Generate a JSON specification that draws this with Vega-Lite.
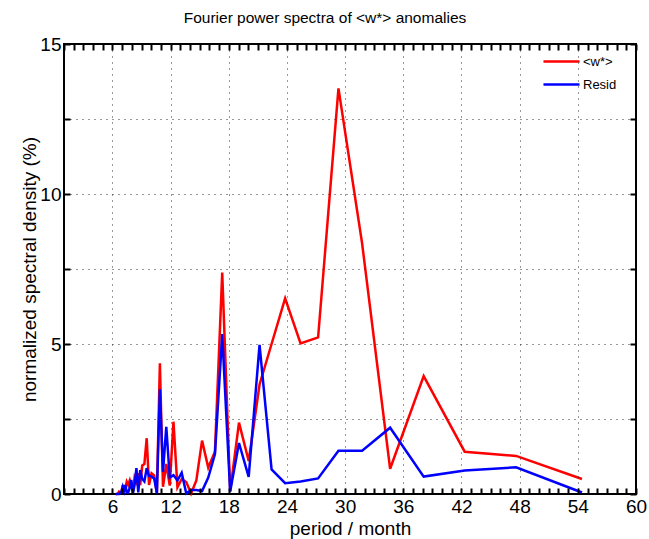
{
  "$schema": "https://vega.github.io/schema/vega-lite/v6.json",
  "width": 572,
  "height": 450,
  "autosize": {"type": "none"},
  "padding": {"left": 64, "top": 44, "right": 13, "bottom": 45},
  "background": "white",
  "config": {"view": {"stroke": "black", "strokeWidth": 2}, "font": "Liberation Sans"},
  "title": {"text": "Fourier power spectra of <w*> anomalies", "fontSize": 15.5, "fontWeight": "normal", "font": "Liberation Sans", "color": "black", "offset": 9, "dx": -25},
  "data": {"values": [
    {"period": 54.43, "series": "<w*>", "value": 0.5}, {"period": 54.43, "series": "Resid", "value": 0.05},
    {"period": 47.63, "series": "<w*>", "value": 1.27}, {"period": 47.63, "series": "Resid", "value": 0.89},
    {"period": 42.33, "series": "<w*>", "value": 1.41}, {"period": 42.33, "series": "Resid", "value": 0.78},
    {"period": 38.1, "series": "<w*>", "value": 3.93}, {"period": 38.1, "series": "Resid", "value": 0.58},
    {"period": 34.64, "series": "<w*>", "value": 0.84}, {"period": 34.64, "series": "Resid", "value": 2.21},
    {"period": 31.75, "series": "<w*>", "value": 8.35}, {"period": 31.75, "series": "Resid", "value": 1.44},
    {"period": 29.31, "series": "<w*>", "value": 13.52}, {"period": 29.31, "series": "Resid", "value": 1.44},
    {"period": 27.21, "series": "<w*>", "value": 5.22}, {"period": 27.21, "series": "Resid", "value": 0.52},
    {"period": 25.4, "series": "<w*>", "value": 5.02}, {"period": 25.4, "series": "Resid", "value": 0.42},
    {"period": 23.81, "series": "<w*>", "value": 6.52}, {"period": 23.81, "series": "Resid", "value": 0.36},
    {"period": 22.41, "series": "<w*>", "value": 5.0}, {"period": 22.41, "series": "Resid", "value": 0.82},
    {"period": 21.17, "series": "<w*>", "value": 3.65}, {"period": 21.17, "series": "Resid", "value": 4.97},
    {"period": 20.05, "series": "<w*>", "value": 1.1}, {"period": 20.05, "series": "Resid", "value": 0.57},
    {"period": 19.05, "series": "<w*>", "value": 2.38}, {"period": 19.05, "series": "Resid", "value": 1.7},
    {"period": 18.14, "series": "<w*>", "value": 0.1}, {"period": 18.14, "series": "Resid", "value": 0.08},
    {"period": 17.32, "series": "<w*>", "value": 7.38}, {"period": 17.32, "series": "Resid", "value": 5.33},
    {"period": 16.57, "series": "<w*>", "value": 1.41}, {"period": 16.57, "series": "Resid", "value": 1.33},
    {"period": 15.88, "series": "<w*>", "value": 0.88}, {"period": 15.88, "series": "Resid", "value": 0.55},
    {"period": 15.24, "series": "<w*>", "value": 1.78}, {"period": 15.24, "series": "Resid", "value": 0.1},
    {"period": 14.65, "series": "<w*>", "value": 0.45}, {"period": 14.65, "series": "Resid", "value": 0.13},
    {"period": 14.11, "series": "<w*>", "value": 0.02}, {"period": 14.11, "series": "Resid", "value": 0.13},
    {"period": 13.61, "series": "<w*>", "value": 0.4}, {"period": 13.61, "series": "Resid", "value": 0.02},
    {"period": 13.14, "series": "<w*>", "value": 0.5}, {"period": 13.14, "series": "Resid", "value": 0.71},
    {"period": 12.7, "series": "<w*>", "value": 0.22}, {"period": 12.7, "series": "Resid", "value": 0.45},
    {"period": 12.29, "series": "<w*>", "value": 2.41}, {"period": 12.29, "series": "Resid", "value": 0.63},
    {"period": 11.91, "series": "<w*>", "value": 0.28}, {"period": 11.91, "series": "Resid", "value": 0.55},
    {"period": 11.55, "series": "<w*>", "value": 1.0}, {"period": 11.55, "series": "Resid", "value": 2.24},
    {"period": 11.21, "series": "<w*>", "value": 0.24}, {"period": 11.21, "series": "Resid", "value": 0.74},
    {"period": 10.89, "series": "<w*>", "value": 4.36}, {"period": 10.89, "series": "Resid", "value": 3.49},
    {"period": 10.58, "series": "<w*>", "value": 0.05}, {"period": 10.58, "series": "Resid", "value": 0.02},
    {"period": 10.3, "series": "<w*>", "value": 0.62}, {"period": 10.3, "series": "Resid", "value": 0.52},
    {"period": 10.03, "series": "<w*>", "value": 0.69}, {"period": 10.03, "series": "Resid", "value": 0.58},
    {"period": 9.77, "series": "<w*>", "value": 0.3}, {"period": 9.77, "series": "Resid", "value": 0.6},
    {"period": 9.53, "series": "<w*>", "value": 1.86}, {"period": 9.53, "series": "Resid", "value": 0.86},
    {"period": 9.29, "series": "<w*>", "value": 1.0}, {"period": 9.29, "series": "Resid", "value": 0.42},
    {"period": 9.07, "series": "<w*>", "value": 0.95}, {"period": 9.07, "series": "Resid", "value": 0.5},
    {"period": 8.86, "series": "<w*>", "value": 0.3}, {"period": 8.86, "series": "Resid", "value": 0.8},
    {"period": 8.66, "series": "<w*>", "value": 0.69}, {"period": 8.66, "series": "Resid", "value": 0.05},
    {"period": 8.47, "series": "<w*>", "value": 0.4}, {"period": 8.47, "series": "Resid", "value": 0.86},
    {"period": 8.28, "series": "<w*>", "value": 0.55}, {"period": 8.28, "series": "Resid", "value": 0.3},
    {"period": 8.11, "series": "<w*>", "value": 0.1}, {"period": 8.11, "series": "Resid", "value": 0.02},
    {"period": 7.94, "series": "<w*>", "value": 0.24}, {"period": 7.94, "series": "Resid", "value": 0.47},
    {"period": 7.78, "series": "<w*>", "value": 0.45}, {"period": 7.78, "series": "Resid", "value": 0.2},
    {"period": 7.62, "series": "<w*>", "value": 0.3}, {"period": 7.62, "series": "Resid", "value": 0.05},
    {"period": 7.47, "series": "<w*>", "value": 0.41}, {"period": 7.47, "series": "Resid", "value": 0.05},
    {"period": 7.33, "series": "<w*>", "value": 0.2}, {"period": 7.33, "series": "Resid", "value": 0.3},
    {"period": 7.19, "series": "<w*>", "value": 0.12}, {"period": 7.19, "series": "Resid", "value": 0.1},
    {"period": 7.06, "series": "<w*>", "value": 0.3}, {"period": 7.06, "series": "Resid", "value": 0.24},
    {"period": 6.93, "series": "<w*>", "value": 0.08}, {"period": 6.93, "series": "Resid", "value": 0.08},
    {"period": 6.8, "series": "<w*>", "value": 0.05}, {"period": 6.8, "series": "Resid", "value": 0.04},
    {"period": 6.68, "series": "<w*>", "value": 0.08}, {"period": 6.68, "series": "Resid", "value": 0.0},
    {"period": 6.57, "series": "<w*>", "value": 0.02}, {"period": 6.57, "series": "Resid", "value": 0.0},
    {"period": 6.46, "series": "<w*>", "value": 0.0}, {"period": 6.46, "series": "Resid", "value": 0.0},
    {"period": 6.35, "series": "<w*>", "value": 0.0}, {"period": 6.35, "series": "Resid", "value": 0.0}
  ]},
  "layer": [
    {
      "mark": {"type": "line", "strokeWidth": 2.5},
      "encoding": {
        "x": {"field": "period", "type": "quantitative",
          "scale": {"domain": [1, 60], "nice": false, "zero": false},
          "axis": {"orient": "bottom", "offset": -6, "zindex": 1, "values": [1,2,3,4,5,6,7,8,9,10,11,12,13,14,15,16,17,18,19,20,21,22,23,24,25,26,27,28,29,30,31,32,33,34,35,36,37,38,39,40,41,42,43,44,45,46,47,48,49,50,51,52,53,54,55,56,57,58,59,60],
            "labelExpr": "datum.value % 6 === 0 ? datum.label : ''",
            "grid": true,
            "gridOpacity": {"condition": {"test": "datum.value % 6 === 0 && datum.value < 60", "value": 1}, "value": 0},
            "gridDash": [1, 5], "gridColor": "#333", "gridWidth": 1,
            "ticks": true, "tickSize": 6, "tickColor": "#000000", "tickWidth": 2, "tickOpacity": 1, "domain": false,
            "labelFontSize": 19, "labelColor": "black", "labelPadding": 3, "labelFlush": false, "labelOverlap": false,
            "title": "period / month", "titleFontSize": 19, "titleFontWeight": "normal", "titleColor": "black", "titlePadding": 3}},
        "y": {"field": "value", "type": "quantitative",
          "scale": {"domain": [0, 15], "nice": false},
          "axis": {"orient": "left", "offset": -6, "zindex": 1, "values": [0, 2.5, 5, 7.5, 10, 12.5, 15],
            "labelExpr": "datum.value % 5 === 0 ? datum.label : ''",
            "grid": true,
            "gridOpacity": {"condition": {"test": "datum.value > 0 && datum.value < 15", "value": 1}, "value": 0},
            "gridDash": [1, 5], "gridColor": "#333", "gridWidth": 1,
            "ticks": true, "tickSize": 6, "tickColor": "#000000", "tickWidth": 2, "tickOpacity": 1, "domain": false,
            "labelFontSize": 19, "labelColor": "black", "labelPadding": 3, "labelFlush": false, "labelOverlap": false,
            "title": "normalized spectral density (%)", "titleFontSize": 19, "titleFontWeight": "normal", "titleColor": "black", "titlePadding": 0}},
        "color": {"field": "series", "type": "nominal",
          "scale": {"domain": ["<w*>", "Resid"], "range": ["#ff0000", "#0000ff"]},
          "legend": {"orient": "none", "legendX": 478, "legendY": 10, "title": null,
            "symbolType": "stroke", "symbolSize": 1300, "symbolStrokeWidth": 2.5, "clipHeight": 15,
            "labelFontSize": 13, "labelColor": "black", "rowPadding": 8, "labelOffset": 2}}
      }
    },
    {
      "mark": {"type": "line", "opacity": 0},
      "encoding": {
        "x": {"field": "period", "type": "quantitative",
          "axis": {"orient": "top", "offset": -6, "zindex": 1, "values": [1,2,3,4,5,6,7,8,9,10,11,12,13,14,15,16,17,18,19,20,21,22,23,24,25,26,27,28,29,30,31,32,33,34,35,36,37,38,39,40,41,42,43,44,45,46,47,48,49,50,51,52,53,54,55,56,57,58,59,60],
            "labels": false, "grid": false, "domain": false, "title": null,
            "ticks": true, "tickSize": 6, "tickColor": "#000000", "tickWidth": 2, "tickOpacity": 1}},
        "y": {"field": "value", "type": "quantitative",
          "axis": {"orient": "right", "offset": -6, "zindex": 1, "values": [0, 2.5, 5, 7.5, 10, 12.5, 15],
            "labels": false, "grid": false, "domain": false, "title": null,
            "ticks": true, "tickSize": 6, "tickColor": "#000000", "tickWidth": 2, "tickOpacity": 1}},
        "detail": {"field": "series", "type": "nominal"}
      }
    }
  ]
}
